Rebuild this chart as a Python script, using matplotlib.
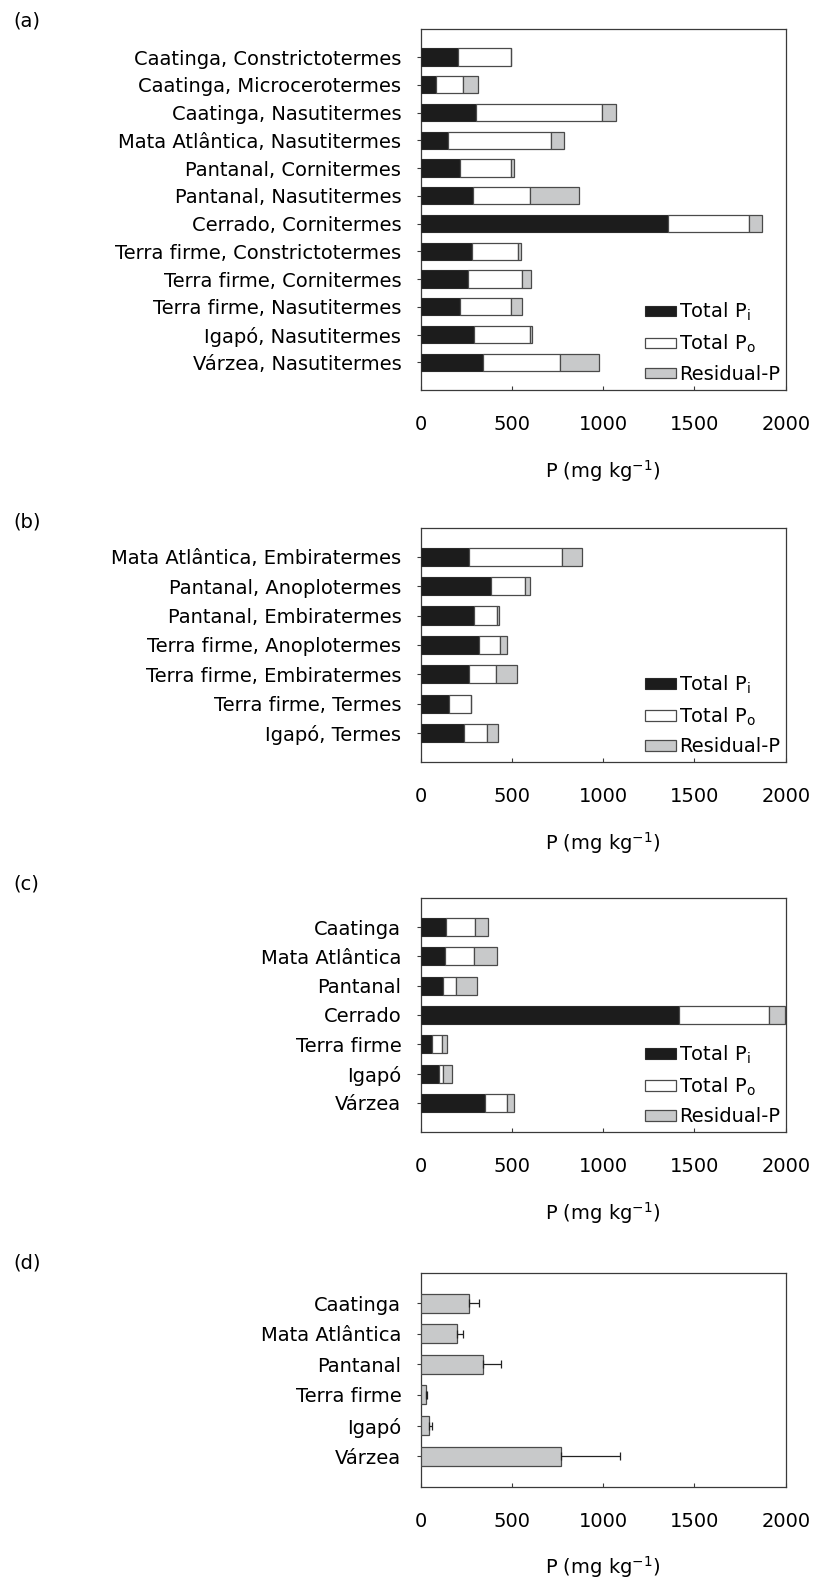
import matplotlib
matplotlib.use("Agg")
import matplotlib.pyplot as plt
import numpy as np

plt.rcParams["font.family"] = ["DejaVu Sans"]
plt.rcParams["mathtext.fontset"] = "dejavusans"

FS = 14
FIG_W, FIG_H = 819, 1580

# (a) termite mounds, genus by biome
labels_a = ["Caatinga, Constrictotermes", "Caatinga, Microcerotermes",
            "Caatinga, Nasutitermes", "Mata Atlântica, Nasutitermes",
            "Pantanal, Cornitermes", "Pantanal, Nasutitermes",
            "Cerrado, Cornitermes", "Terra firme, Constrictotermes",
            "Terra firme, Cornitermes", "Terra firme, Nasutitermes",
            "Igapó, Nasutitermes", "Várzea, Nasutitermes"]
pi_a = [205, 82, 301, 148, 217, 289, 1357, 279, 261, 217, 294, 342]
po_a = [292, 150, 693, 564, 280, 308, 444, 256, 296, 280, 303, 420]
res_a = [0, 84, 74, 73, 14, 271, 69, 17, 49, 60, 15, 217]

# (b) soil-feeding genera
labels_b = ["Mata Atlântica, Embiratermes", "Pantanal, Anoplotermes",
            "Pantanal, Embiratermes", "Terra firme, Anoplotermes",
            "Terra firme, Embiratermes", "Terra firme, Termes",
            "Igapó, Termes"]
pi_b = [267, 384, 294, 320, 267, 157, 236]
po_b = [509, 189, 124, 117, 144, 117, 129]
res_b = [106, 26, 9, 38, 119, 0, 61]

# (c) surrounding soils
labels_c = ["Caatinga", "Mata Atlântica", "Pantanal", "Cerrado",
            "Terra firme", "Igapó", "Várzea"]
pi_c = [141, 133, 121, 1417, 60, 99, 352]
po_c = [157, 157, 74, 490, 59, 25, 121]
res_c = [73, 126, 116, 89, 23, 48, 37]

# (d) mean with error
labels_d = ["Caatinga", "Mata Atlântica", "Pantanal", "Terra firme",
            "Igapó", "Várzea"]
mean_d = [263, 201, 343, 29, 47, 769]
err_d = [57, 31, 95, 4, 17, 325]

BLACK = "#1c1c1c"
GRAY = "#c8c9ca"
EDGE = "#4a4a4a"
SPINE = "#3a3a3a"
BAR_H = 0.62


def axes_rect(top_px, bottom_px, left_px=420.7, right_px=785.7):
    return [left_px / FIG_W, 1 - bottom_px / FIG_H,
            (right_px - left_px) / FIG_W, (bottom_px - top_px) / FIG_H]


def style_axes(ax, labels, letter, letter_y):
    n = len(labels)
    ax.set_xlim(0, 2000)
    ax.set_ylim(n, -1)
    ax.set_xticks([0, 500, 1000, 1500, 2000])
    ax.set_yticks(np.arange(n))
    ax.set_yticklabels(labels)
    ax.tick_params(axis="x", direction="in", length=3, width=0.8,
                   pad=18, labelsize=FS, color=SPINE)
    ax.tick_params(axis="y", direction="out", length=3, width=0.8,
                   pad=11, labelsize=FS, color=SPINE)
    for sp in ax.spines.values():
        sp.set_color(SPINE)
        sp.set_linewidth(0.9)
    ax.set_xlabel("P (mg kg$^{-1}$)", fontsize=FS, labelpad=17)
    ax.figure.text(13 / FIG_W, 1 - letter_y / FIG_H, letter, fontsize=FS,
                   ha="left", va="center")


def stacked(ax, labels, pi, po, res, letter, letter_y):
    y = np.arange(len(labels))
    pi = np.array(pi, float)
    po = np.array(po, float)
    res = np.array(res, float)
    ax.barh(y, pi, BAR_H, color=BLACK, edgecolor="#2a2a2a", linewidth=0.8,
            label="Total $\\mathrm{P_i}$", zorder=3)
    ax.barh(y, po, BAR_H, left=pi, color="white", edgecolor=EDGE,
            linewidth=0.9, label="Total $\\mathrm{P_o}$", zorder=3)
    ax.barh(y, res, BAR_H, left=pi + po, color=GRAY, edgecolor=EDGE,
            linewidth=0.9, label="Residual-P", zorder=3)
    style_axes(ax, labels, letter, letter_y)
    ax.legend(loc="lower right", bbox_to_anchor=(1.0, 0.0), frameon=False,
              fontsize=FS, handlelength=1.6, handleheight=0.42,
              handletextpad=0.15, labelspacing=0.5, borderpad=0.2,
              borderaxespad=0.1)


fig = plt.figure(figsize=(FIG_W / 100, FIG_H / 100), dpi=100)

ax_a = fig.add_axes(axes_rect(29.3, 390))
stacked(ax_a, labels_a, pi_a, po_a, res_a, "(a)", 21)

ax_b = fig.add_axes(axes_rect(527.5, 762.3))
stacked(ax_b, labels_b, pi_b, po_b, res_b, "(b)", 522)

ax_c = fig.add_axes(axes_rect(897.7, 1132.3))
stacked(ax_c, labels_c, pi_c, po_c, res_c, "(c)", 884)

ax_d = fig.add_axes(axes_rect(1272.5, 1486.7))
yd = np.arange(len(labels_d))
ax_d.barh(yd, mean_d, BAR_H, color=GRAY, edgecolor=EDGE, linewidth=0.9,
          zorder=3)
ax_d.errorbar(mean_d, yd, xerr=[np.zeros(len(err_d)), err_d], fmt="none",
              ecolor="#222222", elinewidth=0.9, capsize=3, capthick=0.9,
              zorder=4)
style_axes(ax_d, labels_d, "(d)", 1263)

fig.savefig("out.png", dpi=100)
